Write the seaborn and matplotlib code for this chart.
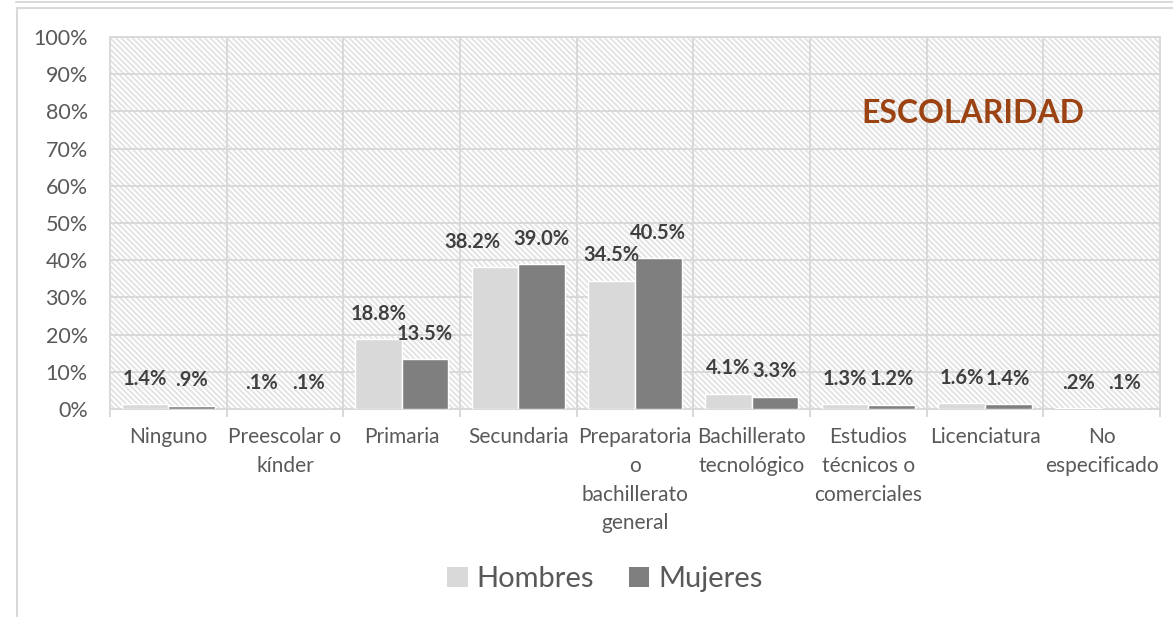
import matplotlib
matplotlib.use("Agg")
import matplotlib.pyplot as plt
from matplotlib.patches import Rectangle
from matplotlib.lines import Line2D
import seaborn as sns
import pandas as pd
import numpy as np

categories = ["Ninguno", "Preescolar o\nkínder", "Primaria", "Secundaria",
              "Preparatoria\no\nbachillerato\ngeneral", "Bachillerato\ntecnológico",
              "Estudios\ntécnicos o\ncomerciales", "Licenciatura", "No\nespecificado"]
hombres = [1.4, 0.1, 18.8, 38.2, 34.5, 4.1, 1.3, 1.6, 0.2]
mujeres = [0.9, 0.1, 13.5, 39.0, 40.5, 3.3, 1.2, 1.4, 0.1]
series = ["Hombres", "Mujeres"]
colors = ["#d9d9d9", "#7f7f7f"]
yticks = list(range(0, 101, 10))
title = "ESCOLARIDAD"

sns.set_theme(style="white")
plt.rcParams["font.family"] = ["Lato", "DejaVu Sans"]
plt.rcParams["hatch.linewidth"] = 1.3

df = pd.DataFrame({
    "cat": categories * 2,
    "val": hombres + mujeres,
    "sexo": [series[0]] * len(categories) + [series[1]] * len(categories),
})

fig = plt.figure(figsize=(11.73, 6.17), dpi=100)
ax = fig.add_axes([110 / 1173, 1 - 409 / 617, (1160 - 110) / 1173, (409 - 37) / 617])

# hatched background
bg = Rectangle((0, 0), 1, 1, transform=ax.transAxes, facecolor="white",
               edgecolor="#e2e2e2", hatch="\\" * 6, linewidth=0, zorder=0)
ax.add_patch(bg)

sns.barplot(data=df, x="cat", y="val", hue="sexo", palette=colors,
            width=0.8, gap=0, saturation=1, ax=ax, zorder=3, legend=False)

ax.set_ylim(0, 100)
ax.set_xlim(-0.5, len(categories) - 0.5)
ax.set_yticks(yticks)
ax.set_yticklabels([f"{t}%" for t in yticks])
ax.set_xlabel("")
ax.set_ylabel("")

ax.yaxis.grid(True, color="#d9d9d9", linewidth=1.4, zorder=1)
ax.set_xticks(np.arange(-0.5, len(categories), 1.0), minor=True)
ax.xaxis.grid(True, which="minor", color="#d9d9d9", linewidth=1.4, zorder=1)
ax.xaxis.grid(False, which="major")
ax.set_axisbelow(True)
for s in ax.spines.values():
    s.set_color("#d9d9d9")
    s.set_linewidth(1.4)
ax.tick_params(axis="x", which="minor", length=6, color="#d9d9d9", width=1.4, direction="out", bottom=True)
ax.tick_params(axis="x", which="major", length=0, pad=13, labelsize=15, labelcolor="#595959")
ax.tick_params(axis="y", length=0, pad=16, labelsize=15.5, labelcolor="#595959")
for lbl in ax.get_xticklabels():
    lbl.set_linespacing(1.55)
    lbl.set_ha("center")

def fmt(v):
    s = f"{v:.1f}%"
    if s.startswith("0"):
        s = s[1:]
    return s

h_bars, m_bars = ax.containers[0], ax.containers[1]
for hb, mb in zip(h_bars, m_bars):
    hh, mh = hb.get_height(), mb.get_height()
    # when both labels would sit at the same height, nudge the first one left
    dx = -16 if (hh > 10 and abs(hh - mh) < 3) else 0
    for bar, off in ((hb, dx), (mb, 0)):
        h = bar.get_height()
        ax.annotate(fmt(h), (bar.get_x() + bar.get_width() / 2, h),
                    xytext=(off, 11), textcoords="offset points",
                    ha="center", va="bottom", fontsize=14.5, fontweight="bold",
                    color="#404040", zorder=5)

ax.text(0.822, 0.795, title, transform=ax.transAxes, ha="center", va="center",
        fontsize=23, fontweight="bold", color="#9c4314", zorder=5)

handles = [Rectangle((0, 0), 1, 1, facecolor=c, edgecolor="none") for c in colors]
fig.legend(handles, series, loc="center", bbox_to_anchor=(605 / 1173, 1 - 579 / 617),
           ncol=2, frameon=False, fontsize=21, labelcolor="#595959",
           handlelength=0.7, handleheight=0.7, handletextpad=0.3, columnspacing=1.2)

# chart frame
fig.add_artist(Line2D([17 / 1173, 17 / 1173], [0, 1 - 8 / 617], transform=fig.transFigure,
                      color="#d9d9d9", linewidth=1.5))
fig.add_artist(Line2D([17 / 1173, 1], [1 - 8 / 617, 1 - 8 / 617], transform=fig.transFigure,
                      color="#d9d9d9", linewidth=1.5))
fig.add_artist(Line2D([16 / 1173, 1], [1 - 2 / 617, 1 - 2 / 617], transform=fig.transFigure,
                      color="#d9d9d9", linewidth=1.5))

fig.savefig("out.png", dpi=100)
